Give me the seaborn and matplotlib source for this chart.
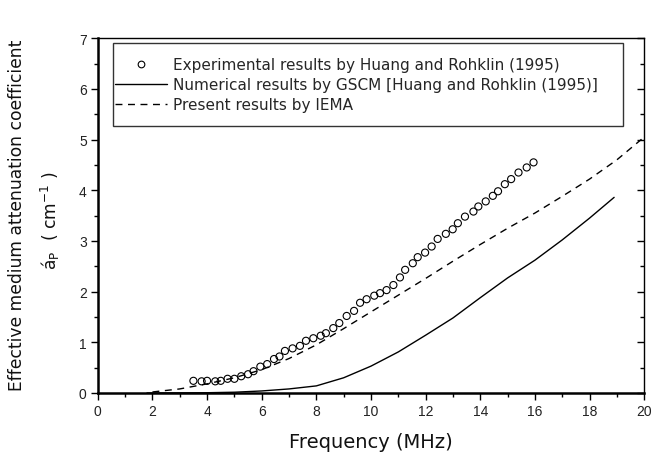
import numpy as np
import pandas as pd
import matplotlib
matplotlib.use("Agg")
import matplotlib.pyplot as plt
import seaborn as sns
from matplotlib.lines import Line2D
from matplotlib.patches import Rectangle
from matplotlib.ticker import MultipleLocator

# Experimental attenuation (Huang and Rohklin, 1995)
exp_freq = [3.5, 3.8, 4.0, 4.3, 4.5, 4.75, 5.0, 5.25, 5.5, 5.7, 5.95, 6.2, 6.45,
            6.65, 6.85, 7.13, 7.4, 7.62, 7.89, 8.16, 8.35, 8.62, 8.84, 9.11, 9.38,
            9.6, 9.84, 10.12, 10.33, 10.57, 10.82, 11.06, 11.25, 11.53, 11.71,
            11.98, 12.22, 12.44, 12.74, 12.99, 13.18, 13.44, 13.75, 13.93, 14.2,
            14.46, 14.65, 14.9, 15.13, 15.4, 15.7, 15.95]
exp_alpha = [0.24, 0.23, 0.24, 0.23, 0.24, 0.28, 0.28, 0.33, 0.37, 0.43, 0.52,
             0.57, 0.67, 0.72, 0.83, 0.88, 0.93, 1.03, 1.08, 1.13, 1.18, 1.28,
             1.38, 1.52, 1.62, 1.78, 1.85, 1.92, 1.97, 2.03, 2.13, 2.28, 2.43,
             2.56, 2.68, 2.77, 2.89, 3.04, 3.14, 3.23, 3.35, 3.48, 3.58, 3.68,
             3.78, 3.89, 3.98, 4.12, 4.22, 4.35, 4.45, 4.55]

# GSCM numerical results
gscm_freq = [1.8, 3, 4, 5, 6, 7, 8, 9, 10, 11, 12, 13, 14, 15, 16, 17, 18, 18.9]
gscm_alpha = [0.0, 0.002, 0.005, 0.015, 0.04, 0.08, 0.14, 0.30, 0.53, 0.81,
              1.14, 1.48, 1.88, 2.27, 2.62, 3.02, 3.45, 3.86]

# IEMA present results
iema_freq = [2, 3, 4, 5, 6, 7, 8, 9, 10, 11, 12, 13, 14, 15, 16, 17, 18, 19, 20]
iema_alpha = [0.02, 0.08, 0.18, 0.30, 0.46, 0.68, 0.95, 1.27, 1.60, 1.93, 2.26,
              2.60, 2.93, 3.25, 3.55, 3.88, 4.22, 4.60, 5.05]

labels = ["Experimental results by Huang and Rohklin (1995)",
          "Numerical results by GSCM [Huang and Rohklin (1995)]",
          "Present results by IEMA"]

sns.set_theme(style="ticks")
plt.rcParams["font.family"] = ["Liberation Sans", "DejaVu Sans"]
plt.rcParams["mathtext.fontset"] = "custom"
plt.rcParams["mathtext.rm"] = "DejaVu Sans"

DASH = (0, (5, 4))

fig = plt.figure(figsize=(6.52, 4.56), dpi=100)
ax = fig.add_axes([0.150, 0.136, 0.838, 0.778])

exp_df = pd.DataFrame({"f": exp_freq, "a": exp_alpha})
gscm_df = pd.DataFrame({"f": gscm_freq, "a": gscm_alpha})
iema_df = pd.DataFrame({"f": iema_freq, "a": iema_alpha})

sns.scatterplot(data=exp_df, x="f", y="a", ax=ax, marker="o", s=26,
                facecolor="none", edgecolor="black", linewidth=0.8, zorder=3)
sns.lineplot(data=gscm_df, x="f", y="a", ax=ax, color="black", linewidth=1.0)
sns.lineplot(data=iema_df, x="f", y="a", ax=ax, color="black", linewidth=1.0,
             linestyle=DASH)

ax.set_xlim(0, 20)
ax.set_ylim(0, 7)
ax.xaxis.set_major_locator(MultipleLocator(2))
ax.xaxis.set_minor_locator(MultipleLocator(1))
ax.yaxis.set_major_locator(MultipleLocator(1))
ax.yaxis.set_minor_locator(MultipleLocator(0.5))
ax.tick_params(which="both", direction="out", color="black", labelsize=10,
               labelcolor="#222222", pad=3)
ax.tick_params(which="major", length=5, width=1.0)
ax.tick_params(which="minor", length=3, width=1.0)

# mirrored ticks on the right spine, pointing inward
ax_r = ax.twinx()
ax_r.set_ylim(0, 7)
ax_r.yaxis.set_major_locator(MultipleLocator(1))
ax_r.yaxis.set_minor_locator(MultipleLocator(0.5))
ax_r.tick_params(axis="y", which="both", direction="in", right=True,
                 labelright=False, color="black", width=1.0)
ax_r.tick_params(axis="y", which="major", length=5)
ax_r.tick_params(axis="y", which="minor", length=3)
for s in ax_r.spines.values():
    s.set_visible(False)

for side in ["left", "bottom"]:
    ax.spines[side].set_linewidth(1.8)
    ax.spines[side].set_color("black")
for side in ["top", "right"]:
    ax.spines[side].set_linewidth(1.0)
    ax.spines[side].set_color("black")

ax.set_xlabel("Frequency (MHz)", fontsize=14, labelpad=10, color="#111111",
              family="DejaVu Sans")
ax.set_ylabel("")
fig.text(0.026, 0.528, "Effective medium attenuation coefficient", rotation=90,
         ha="center", va="center", fontsize=12.3, color="#111111",
         family="DejaVu Sans")
fig.text(0.078, 0.515, r"$\mathregular{á_P}$  ( cm$^{-1}$ )", rotation=90,
         ha="center", va="center", fontsize=12.3, color="#111111",
         family="DejaVu Sans")

# legend frame
ax.add_patch(Rectangle((0.0275, 0.752), 0.934, 0.234, transform=ax.transAxes,
                       fill=True, facecolor="white", edgecolor="#333333",
                       linewidth=1.0, zorder=4))

handles = [
    Line2D([], [], marker="o", linestyle="none", markerfacecolor="none",
           markeredgecolor="black", markersize=4.8, markeredgewidth=0.8),
    Line2D([], [], color="black", linewidth=1.0),
    Line2D([], [], color="black", linewidth=1.0, linestyle=DASH),
]
leg = ax.legend(handles, labels, loc="upper left",
                bbox_to_anchor=(0.031, 0.947), prop={"family": "DejaVu Sans",
                                                      "size": 11},
                frameon=False, handlelength=3.4, handletextpad=0.4,
                labelspacing=0.33, borderpad=0, borderaxespad=0)
leg.set_zorder(5)

fig.savefig("out.png", dpi=100)
